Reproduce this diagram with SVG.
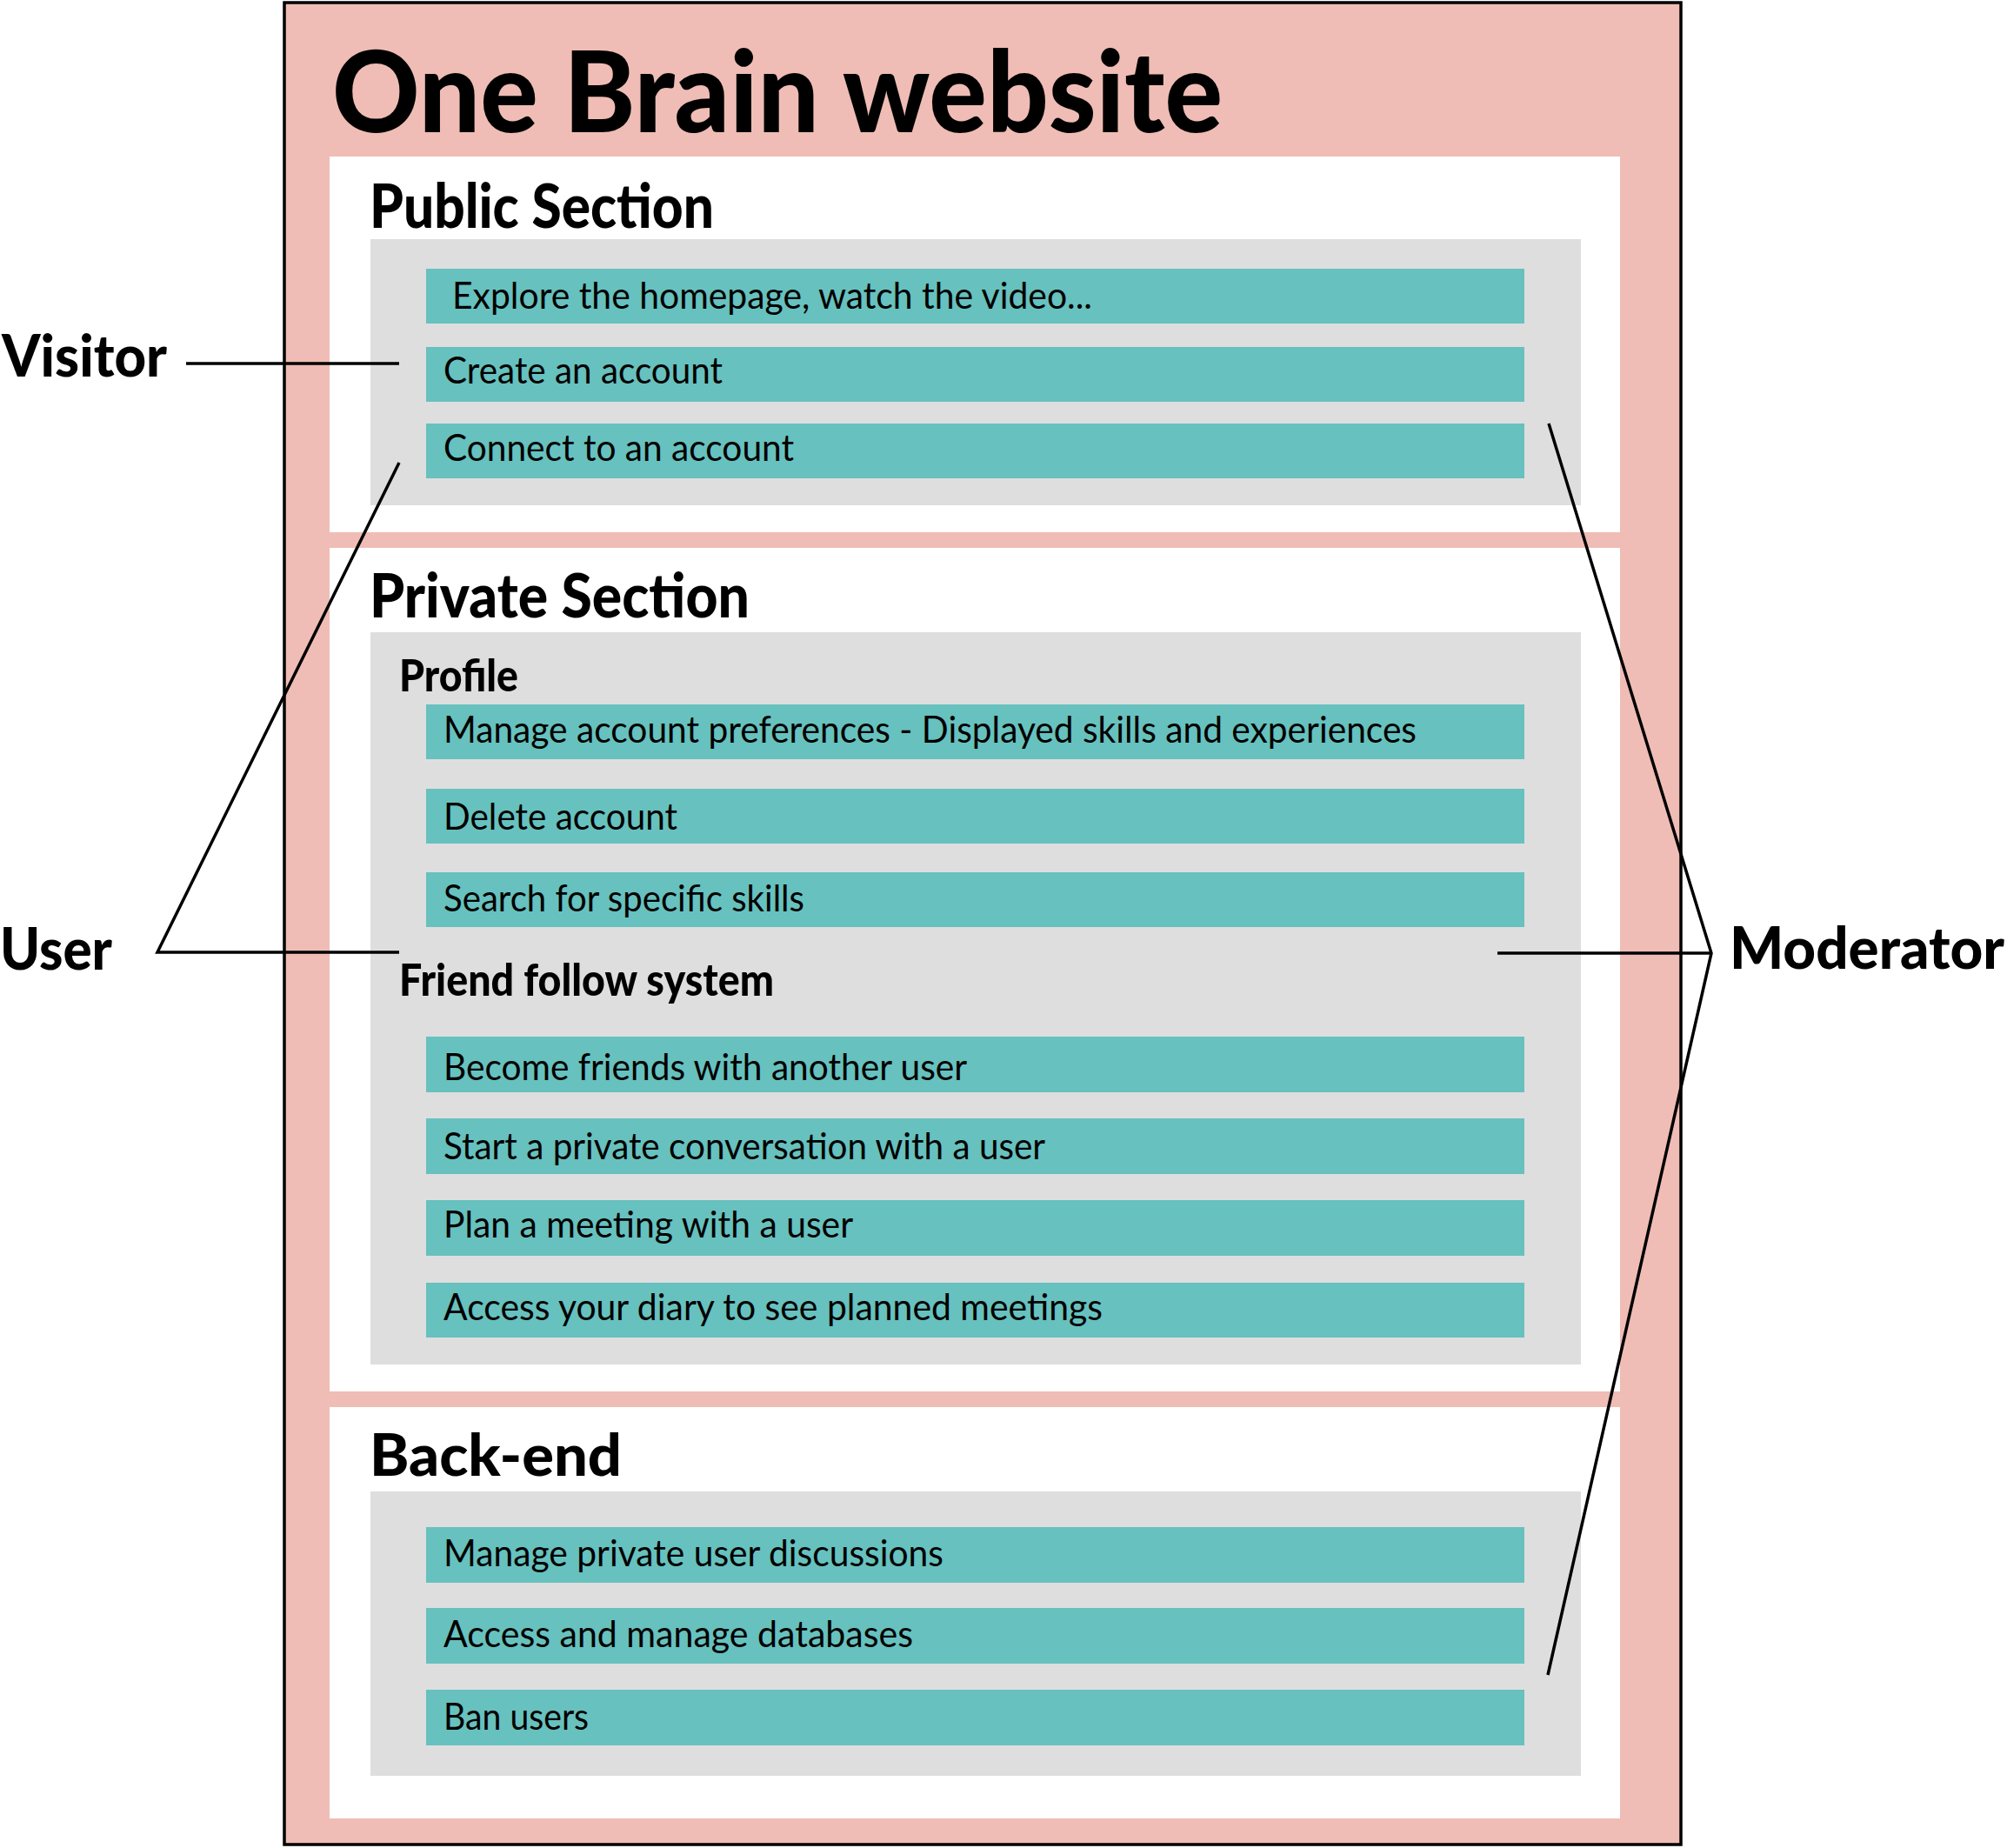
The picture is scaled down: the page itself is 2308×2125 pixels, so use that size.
<svg xmlns="http://www.w3.org/2000/svg" width="2308" height="2125" viewBox="0 0 2308 2125">
<style>
.frame{fill:#EFBDB5;stroke:#000;stroke-width:3.5}
.sec{fill:#FFFFFF}
.grp{fill:#DEDEDE}
.item{fill:#67C1BE}
.t{font-family:Lato,"Liberation Sans",sans-serif;font-size:42px;fill:#000}
.h{font-family:Lato,"Liberation Sans",sans-serif;font-weight:900;fill:#000}
.conn{stroke:#000;stroke-width:3.5;fill:none}
</style>
<rect width="2308" height="2125" fill="#FFFFFF"/>
<g id="website">
<rect class="frame" x="327" y="3" width="1606" height="2118"/>
<text class="h" x="382" y="152" font-size="130" textLength="1024" lengthAdjust="spacingAndGlyphs">One Brain website</text>
</g>
<g id="public-section">
<rect class="sec" x="379" y="180" width="1484" height="432"/>
<text class="h" x="425" y="262" font-size="70" textLength="396" lengthAdjust="spacingAndGlyphs">Public Section</text>
<rect class="grp" x="426" y="275" width="1392" height="306"/>
</g>
<g id="item-explore"><rect class="item" x="490" y="309" width="1263" height="63"/><text class="t" x="520" y="355" textLength="736" lengthAdjust="spacingAndGlyphs">Explore the homepage, watch the video...</text></g>
<g id="item-create"><rect class="item" x="490" y="399" width="1263" height="63"/><text class="t" x="510" y="441" textLength="321" lengthAdjust="spacingAndGlyphs">Create an account</text></g>
<g id="item-connect"><rect class="item" x="490" y="487" width="1263" height="63"/><text class="t" x="510" y="530" textLength="403" lengthAdjust="spacingAndGlyphs">Connect to an account</text></g>
<g id="private-section">
<rect class="sec" x="379" y="630" width="1484" height="970"/>
<text class="h" x="425" y="710" font-size="70" textLength="437" lengthAdjust="spacingAndGlyphs">Private Section</text>
<rect class="grp" x="426" y="727" width="1392" height="842"/>
<text class="h" x="459" y="795" font-size="52" textLength="137" lengthAdjust="spacingAndGlyphs">Profile</text>
<text class="h" x="459" y="1145" font-size="52" textLength="431" lengthAdjust="spacingAndGlyphs">Friend follow system</text>
</g>
<g id="item-manage-prefs"><rect class="item" x="490" y="810" width="1263" height="63"/><text class="t" x="510" y="854" textLength="1119" lengthAdjust="spacingAndGlyphs">Manage account preferences - Displayed skills and experiences</text></g>
<g id="item-delete"><rect class="item" x="490" y="907" width="1263" height="63"/><text class="t" x="510" y="954" textLength="269" lengthAdjust="spacingAndGlyphs">Delete account</text></g>
<g id="item-search"><rect class="item" x="490" y="1003" width="1263" height="63"/><text class="t" x="510" y="1048" textLength="415" lengthAdjust="spacingAndGlyphs">Search for specific skills</text></g>
<g id="item-friends"><rect class="item" x="490" y="1192" width="1263" height="64"/><text class="t" x="510" y="1242" textLength="602" lengthAdjust="spacingAndGlyphs">Become friends with another user</text></g>
<g id="item-conversation"><rect class="item" x="490" y="1286" width="1263" height="64"/><text class="t" x="510" y="1333" textLength="692" lengthAdjust="spacingAndGlyphs">Start a private conversation with a user</text></g>
<g id="item-meeting"><rect class="item" x="490" y="1380" width="1263" height="64"/><text class="t" x="510" y="1423" textLength="471" lengthAdjust="spacingAndGlyphs">Plan a meeting with a user</text></g>
<g id="item-diary"><rect class="item" x="490" y="1475" width="1263" height="63"/><text class="t" x="510" y="1518" textLength="758" lengthAdjust="spacingAndGlyphs">Access your diary to see planned meetings</text></g>
<g id="backend-section">
<rect class="sec" x="379" y="1618" width="1484" height="473"/>
<text class="h" x="425" y="1697" font-size="67" textLength="290" lengthAdjust="spacingAndGlyphs">Back-end</text>
<rect class="grp" x="426" y="1715" width="1392" height="327"/>
</g>
<g id="item-discussions"><rect class="item" x="490" y="1756" width="1263" height="64"/><text class="t" x="510" y="1801" textLength="575" lengthAdjust="spacingAndGlyphs">Manage private user discussions</text></g>
<g id="item-databases"><rect class="item" x="490" y="1849" width="1263" height="64"/><text class="t" x="510" y="1894" textLength="540" lengthAdjust="spacingAndGlyphs">Access and manage databases</text></g>
<g id="item-ban"><rect class="item" x="490" y="1943" width="1263" height="64"/><text class="t" x="510" y="1989" textLength="167" lengthAdjust="spacingAndGlyphs">Ban users</text></g>
<g id="actor-visitor"><text class="h" x="2" y="433" font-size="67" textLength="190" lengthAdjust="spacingAndGlyphs">Visitor</text></g>
<g id="actor-user"><text class="h" x="0" y="1115" font-size="67" textLength="129" lengthAdjust="spacingAndGlyphs">User</text></g>
<g id="actor-moderator"><text class="h" x="1989" y="1114" font-size="67" textLength="316" lengthAdjust="spacingAndGlyphs">Moderator</text></g>
<g id="connectors">
<line class="conn" x1="214" y1="418" x2="459" y2="418"/>
<polyline class="conn" points="459,532 181,1095 459,1095"/>
<polyline class="conn" points="1781,487 1968,1096 1780,1926"/>
<line class="conn" x1="1722" y1="1096" x2="1968" y2="1096"/>
</g>
</svg>
